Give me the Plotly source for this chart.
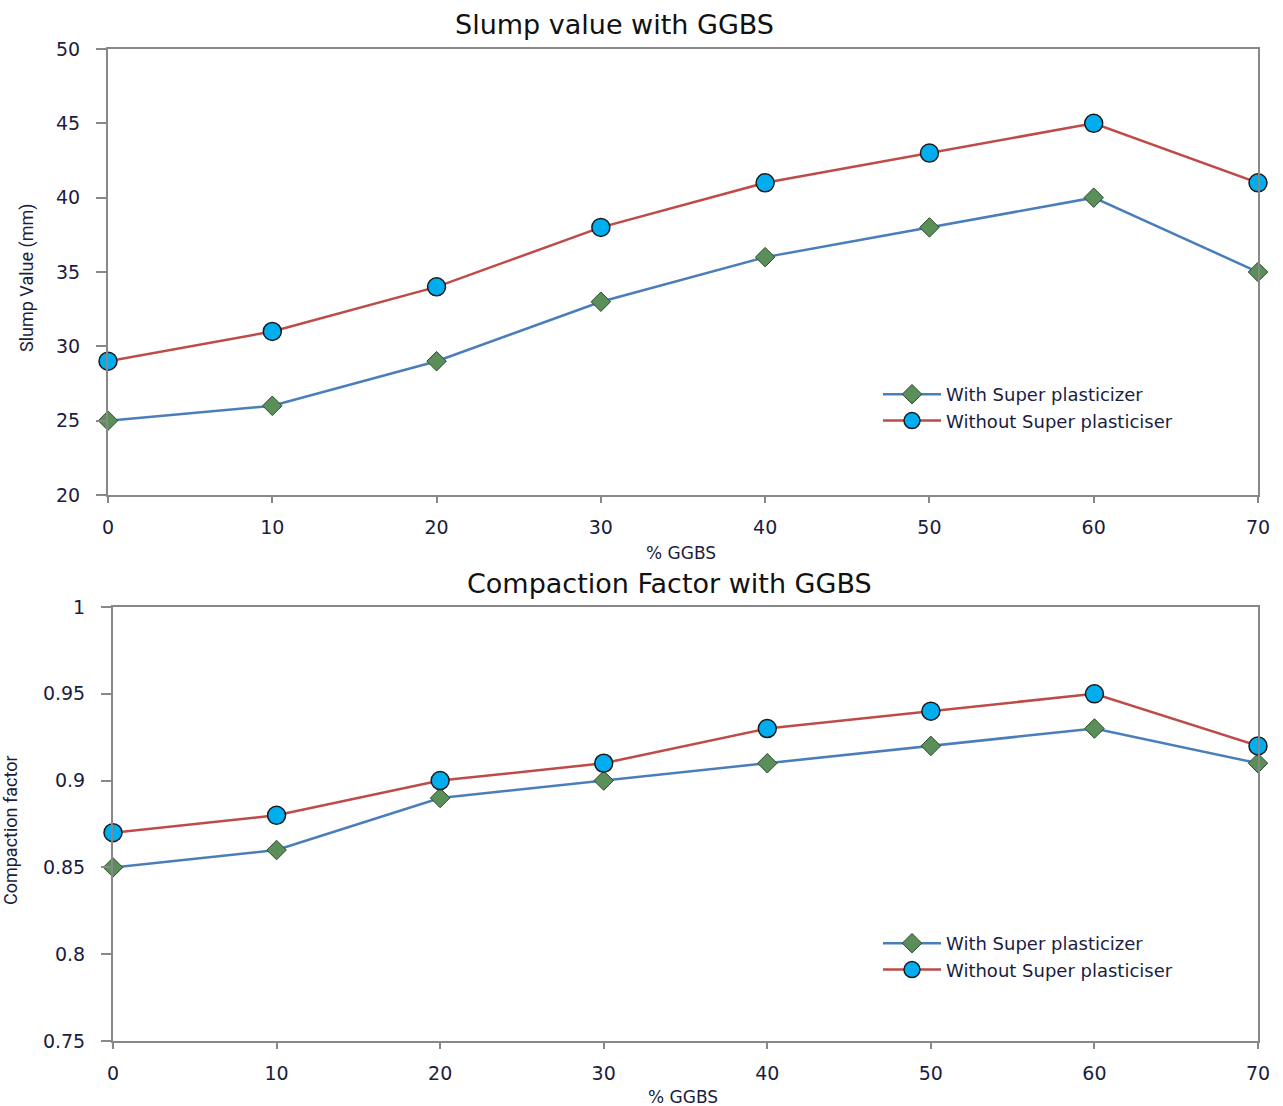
import plotly.graph_objects as go

# % GGBS replacement levels
ggbs = [0, 10, 20, 30, 40, 50, 60, 70]

# Slump value (mm)
slump_with_sp = [25, 26, 29, 33, 36, 38, 40, 35]
slump_without_sp = [29, 31, 34, 38, 41, 43, 45, 41]

# Compaction factor
cf_with_sp = [0.85, 0.86, 0.89, 0.90, 0.91, 0.92, 0.93, 0.91]
cf_without_sp = [0.87, 0.88, 0.90, 0.91, 0.93, 0.94, 0.95, 0.92]

slump_ticks = [20, 25, 30, 35, 40, 45, 50]
cf_ticks = [0.75, 0.8, 0.85, 0.9, 0.95, 1.0]
cf_ticktext = ["0.75", "0.8", "0.85", "0.9", "0.95", "1"]

label_with = "With Super plasticizer"
label_without = "Without Super plasticiser"

BLUE = "#4A7EBB"
RED = "#BE4B48"
GREEN = "#5A8F5A"
CYAN = "#00AEEF"
AXIS = "#888888"
INK = "#1c1c40"
FONT = "Verdana, DejaVu Sans, sans-serif"
NARROW = "Liberation Sans Narrow, Arial Narrow, Roboto, sans-serif"

W, H = 1283, 1106


def px(v):
    return v / W


def py(v):
    return (H - v) / H


fig = go.Figure()

series = [
    ("x", "y", "legend", slump_with_sp, slump_without_sp),
    ("x2", "y2", "legend2", cf_with_sp, cf_without_sp),
]
for xa, ya, lg, with_sp, without_sp in series:
    fig.add_trace(go.Scatter(
        x=ggbs, y=with_sp, name=label_with, mode="lines+markers",
        xaxis=xa, yaxis=ya, legend=lg, cliponaxis=False,
        line=dict(color=BLUE, width=2.5),
        marker=dict(symbol="diamond", size=15, color=GREEN,
                    line=dict(color="#2d4a2d", width=1)),
    ))
    fig.add_trace(go.Scatter(
        x=ggbs, y=without_sp, name=label_without, mode="lines+markers",
        xaxis=xa, yaxis=ya, legend=lg, cliponaxis=False,
        line=dict(color=RED, width=2.5),
        marker=dict(symbol="circle", size=18, color=CYAN,
                    line=dict(color="#1a1a1a", width=1.5)),
    ))

common_axis = dict(
    showline=True, linecolor=AXIS, linewidth=2, mirror=True,
    showgrid=False, zeroline=False,
    ticks="outside", tickcolor=AXIS, tickwidth=1.5,
    tickfont=dict(family=FONT, size=19, color=INK),
)

fig.update_layout(
    width=W, height=H,
    margin=dict(l=0, r=0, t=0, b=0, autoexpand=False),
    paper_bgcolor="white", plot_bgcolor="white",
    xaxis=dict(common_axis, domain=[px(108), px(1258)], range=[0, 70],
               tickvals=ggbs, ticklen=6, ticklabelstandoff=8, anchor="y"),
    yaxis=dict(common_axis, domain=[py(495), py(49)], range=[20, 50],
               tickvals=slump_ticks, ticklen=10, ticklabelstandoff=12, anchor="x"),
    xaxis2=dict(common_axis, domain=[px(113), px(1258)], range=[0, 70],
                tickvals=ggbs, ticklen=6, ticklabelstandoff=8, anchor="y2"),
    yaxis2=dict(common_axis, domain=[py(1041), py(607)], range=[0.75, 1.0],
                tickvals=cf_ticks, ticktext=cf_ticktext,
                ticklen=10, ticklabelstandoff=12, anchor="x2"),
    legend=dict(x=px(878), y=py(376), xanchor="left", yanchor="top",
                bgcolor="rgba(0,0,0,0)", font=dict(family=FONT, size=18, color=INK),
                itemwidth=58, tracegroupgap=0),
    legend2=dict(x=px(878), y=py(925), xanchor="left", yanchor="top",
                 bgcolor="rgba(0,0,0,0)", font=dict(family=FONT, size=18, color=INK),
                 itemwidth=58, tracegroupgap=0),
    showlegend=True,
)

annotations = [
    dict(text="Slump value with GGBS", x=px(614), y=py(24),
         font=dict(family=FONT, size=27, color="#111111")),
    dict(text="Compaction Factor with GGBS", x=px(670), y=py(583),
         font=dict(family=FONT, size=27, color="#111111")),
    dict(text="% GGBS", x=px(681), y=py(553),
         font=dict(family=FONT, size=17, color=INK)),
    dict(text="% GGBS", x=px(683), y=py(1097),
         font=dict(family=FONT, size=17, color=INK)),
    dict(text="Slump Value (mm)", x=px(27), y=py(278), textangle=-90,
         font=dict(family=NARROW, size=18, color=INK)),
    dict(text="Compaction factor", x=px(10), y=py(830), textangle=-90,
         font=dict(family=NARROW, size=18, color=INK)),
]
for a in annotations:
    fig.add_annotation(xref="paper", yref="paper", xanchor="center",
                       yanchor="middle", showarrow=False, **a)

fig.write_html(
    "out.html",
    post_script="document.body.style.margin='0';",
)
